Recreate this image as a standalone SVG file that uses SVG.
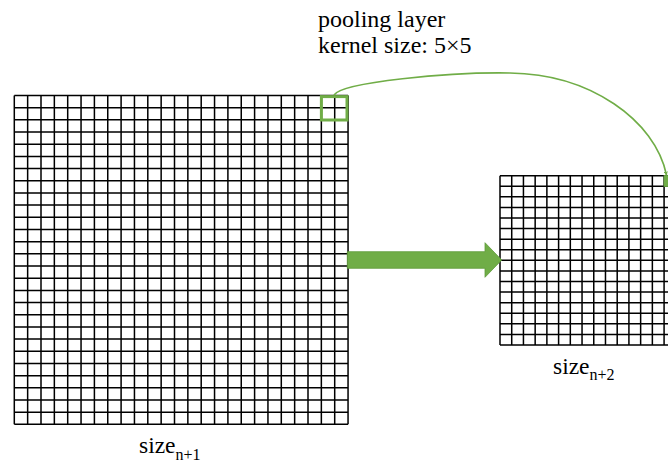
<svg xmlns="http://www.w3.org/2000/svg" width="668" height="464" viewBox="0 0 668 464">
  <style>
    .grid { fill: none; stroke: #000; stroke-width: 1.5; }
    .green { fill: none; stroke: #70AD47; }
    .lbl { font-family: "Liberation Serif", "Times New Roman", serif; fill: #000; }
  </style>
  <defs>
    <marker id="ah" viewBox="0 0 6 6" refX="5" refY="3" markerWidth="4" markerHeight="4" orient="auto" markerUnits="userSpaceOnUse">
      <path d="M0,0 L6,3 L0,6 z" fill="#70AD47"/>
    </marker>
  </defs>
  <rect width="668" height="464" fill="#fff"/>

  <g id="grid-n1">
    <path class="grid" d="M14.3,95.5V424.36 M27.65,95.5V424.36 M41,95.5V424.36 M54.35,95.5V424.36 M67.7,95.5V424.36 M81.05,95.5V424.36 M94.4,95.5V424.36 M107.75,95.5V424.36 M121.1,95.5V424.36 M134.45,95.5V424.36 M147.8,95.5V424.36 M161.15,95.5V424.36 M174.5,95.5V424.36 M187.85,95.5V424.36 M201.2,95.5V424.36 M214.55,95.5V424.36 M227.9,95.5V424.36 M241.25,95.5V424.36 M254.6,95.5V424.36 M267.95,95.5V424.36 M281.3,95.5V424.36 M294.65,95.5V424.36 M308,95.5V424.36 M321.35,95.5V424.36 M334.7,95.5V424.36 M348.05,95.5V424.36
    M14.3,95.5H348.05 M14.3,107.68H348.05 M14.3,119.86H348.05 M14.3,132.04H348.05 M14.3,144.22H348.05 M14.3,156.4H348.05 M14.3,168.58H348.05 M14.3,180.76H348.05 M14.3,192.94H348.05 M14.3,205.12H348.05 M14.3,217.3H348.05 M14.3,229.48H348.05 M14.3,241.66H348.05 M14.3,253.84H348.05 M14.3,266.02H348.05 M14.3,278.2H348.05 M14.3,290.38H348.05 M14.3,302.56H348.05 M14.3,314.74H348.05 M14.3,326.92H348.05 M14.3,339.1H348.05 M14.3,351.28H348.05 M14.3,363.46H348.05 M14.3,375.64H348.05 M14.3,387.82H348.05 M14.3,400H348.05 M14.3,412.18H348.05 M14.3,424.36H348.05"/>
    <rect class="green" x="321.4" y="96.6" width="25.6" height="23.4" stroke-width="3"/>
    <text class="lbl" x="139" y="453" font-size="23.5">size<tspan font-size="16" dy="6.5">n+1</tspan></text>
  </g>

  <g id="grid-n2">
    <path class="grid" d="M500,175.7V344.98 M511.72,175.7V344.98 M523.44,175.7V344.98 M535.16,175.7V344.98 M546.88,175.7V344.98 M558.6,175.7V344.98 M570.32,175.7V344.98 M582.04,175.7V344.98 M593.76,175.7V344.98 M605.48,175.7V344.98 M617.2,175.7V344.98 M628.92,175.7V344.98 M640.64,175.7V344.98 M652.36,175.7V344.98 M664.08,175.7V344.98 M675.8,175.7V344.98
    M500,175.7H675.8 M500,186.28H675.8 M500,196.86H675.8 M500,207.44H675.8 M500,218.02H675.8 M500,228.6H675.8 M500,239.18H675.8 M500,249.76H675.8 M500,260.34H675.8 M500,270.92H675.8 M500,281.5H675.8 M500,292.08H675.8 M500,302.66H675.8 M500,313.24H675.8 M500,323.82H675.8 M500,334.4H675.8 M500,344.98H675.8"/>
    <rect x="664.1" y="175.7" width="11.7" height="10.6" fill="#70AD47" stroke="#70AD47" stroke-width="1"/>
    <text class="lbl" x="553" y="374" font-size="23.5">size<tspan font-size="16" dy="5.5">n+2</tspan></text>
  </g>

  <g id="title">
    <text class="lbl" x="318" y="26.5" font-size="24">pooling layer</text>
    <text class="lbl" x="318" y="52.5" font-size="24">kernel size: 5×5</text>
  </g>

  <g id="connectors">
    <path class="green" stroke-width="1.6" d="M334,95 C342,82 450,72 510,73 C590,74 655,120 666.5,175" marker-end="url(#ah)"/>
    <path d="M347.3,251.7 H485 V242.7 L501.7,260 L485,277.3 V268.3 H347.3 Z" fill="#70AD47" stroke="#5E9A3A" stroke-width="0.8"/>
  </g>
</svg>
